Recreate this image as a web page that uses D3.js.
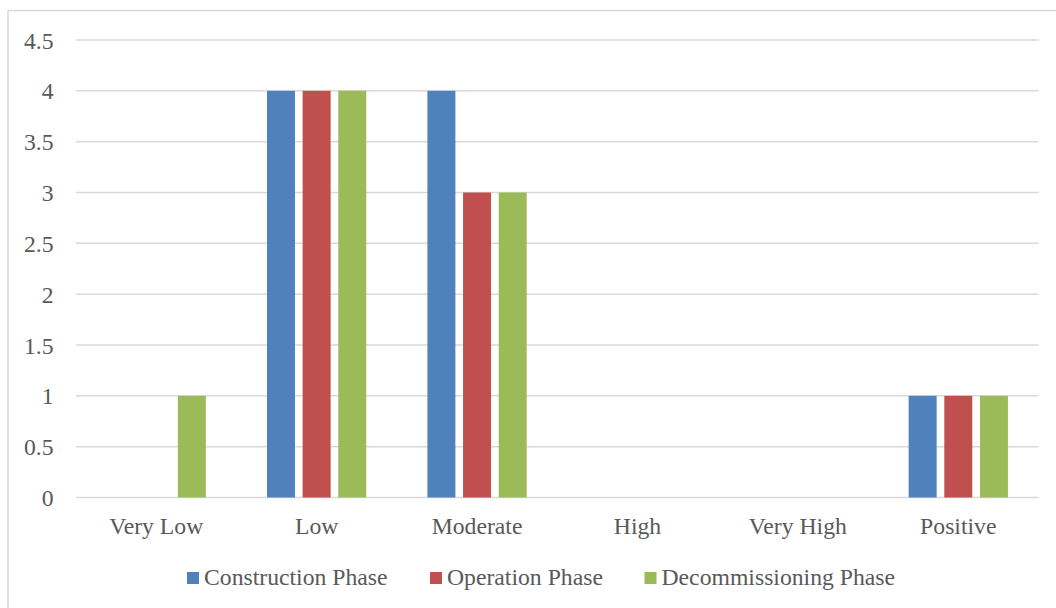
<!DOCTYPE html>
<html>
<head>
<meta charset="utf-8">
<script src="https://cdn.jsdelivr.net/npm/d3@7"></script>
<style>
  html, body { margin: 0; padding: 0; background: #fff; }
  svg { display: block; }
  text { font-family: "Liberation Serif", "Times New Roman", serif; fill: #595959; }
</style>
</head>
<body>
<svg id="chart" width="1056" height="608"></svg>
<script>
// Impact significance counts per project phase
const categories = ["Very Low", "Low", "Moderate", "High", "Very High", "Positive"];
const seriesNames = ["Construction Phase", "Operation Phase", "Decommissioning Phase"];
const construction = [0, 4, 4, 0, 0, 1];
const operation = [0, 4, 3, 0, 0, 1];
const decommissioning = [1, 4, 3, 0, 0, 1];
const yTicks = [0, 0.5, 1, 1.5, 2, 2.5, 3, 3.5, 4, 4.5];
const colors = ["#4F81BD", "#C0504D", "#9BBB59"];

const seriesValues = [construction, operation, decommissioning];
const FONT = "Liberation Serif, Times New Roman, serif";
const FS = 23.7;

const svg = d3.select("#chart");
const W = 1056, H = 608;

// outer frame (open to the right and bottom edges)
svg.append("rect")
  .attr("x", 8).attr("y", 10.5)
  .attr("width", W).attr("height", H)
  .attr("fill", "none").attr("stroke", "#D9D9D9").attr("stroke-width", 1.5);

const plot = { left: 76, right: 1038.5, top: 40, bottom: 497.5 };

const x = d3.scaleBand().domain(categories).range([plot.left, plot.right]).padding(0);
const y = d3.scaleLinear().domain([0, 4.5]).range([plot.bottom, plot.top]);

const groupWidth = 99.3;
const inner = d3.scaleBand().domain(seriesNames)
  .range([0, groupWidth]).paddingInner(0.215).paddingOuter(0);
const groupOffset = (x.bandwidth() - groupWidth) / 2;

// gridlines
svg.append("g").selectAll("line").data(yTicks).join("line")
  .attr("x1", plot.left).attr("x2", plot.right)
  .attr("y1", d => y(d)).attr("y2", d => y(d))
  .attr("stroke", "#D9D9D9").attr("stroke-width", 1.5);

// y-axis labels
const yAxis = d3.axisLeft(y).tickValues(yTicks).tickSize(0).tickPadding(0)
  .tickFormat(d => String(d));
svg.append("g").attr("transform", `translate(${53.5},0)`).call(yAxis)
  .attr("font-family", FONT).attr("font-size", FS)
  .call(g => g.select(".domain").remove())
  .call(g => g.selectAll("text")
    .attr("dy", "0.34em")
    .attr("fill", "#595959"));

// bars
seriesNames.forEach((name, si) => {
  svg.append("g").selectAll("rect")
    .data(categories.map((c, i) => ({ c, v: seriesValues[si][i] })).filter(d => d.v > 0))
    .join("rect")
    .attr("x", d => x(d.c) + groupOffset + inner(name))
    .attr("width", inner.bandwidth())
    .attr("y", d => y(d.v))
    .attr("height", d => y(0) - y(d.v))
    .attr("fill", colors[si]);
});

// x-axis labels
const xAxis = d3.axisBottom(x).tickSize(0).tickPadding(0);
svg.append("g").attr("transform", `translate(0,${534})`).call(xAxis)
  .attr("font-family", FONT).attr("font-size", FS)
  .call(g => g.select(".domain").remove())
  .call(g => g.selectAll("text")
    .attr("y", 0).attr("dy", 0)
    .attr("fill", "#595959"));

// legend
const legendX = [187, 430, 644.5];
const legend = svg.append("g").attr("font-family", FONT).attr("font-size", FS);
seriesNames.forEach((name, i) => {
  legend.append("rect")
    .attr("x", legendX[i]).attr("y", 572)
    .attr("width", 12).attr("height", 12)
    .attr("fill", colors[i]);
  legend.append("text")
    .attr("x", legendX[i] + 17).attr("y", 584.5)
    .text(name);
});
</script>
</body>
</html>
